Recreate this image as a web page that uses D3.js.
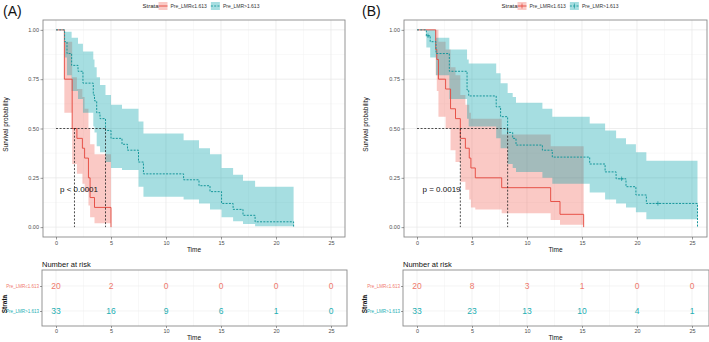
<!DOCTYPE html>
<html>
<head>
<meta charset="utf-8">
<script src="https://cdn.jsdelivr.net/npm/d3@7"></script>
<style>
  body { margin: 0; background: #fff; }
  svg { display: block; font-family: "Liberation Sans", Arial, sans-serif; }
</style>
</head>
<body>
<svg id="chart" width="709" height="342"></svg>
<script>
const timeTicks = [0, 5, 10, 15, 20, 25];
const survTicks = [0, 0.25, 0.5, 0.75, 1];
const survTickLabels = ["0.00", "0.25", "0.50", "0.75", "1.00"];
const strata = ["Pre_LMR\u22641.613", "Pre_LMR>1.613"];

// panel A, low group
const aLowTime  = [0, 0.76, 1.47, 1.9, 2.4, 2.6, 2.95, 3.1, 3.5, 5.0];
const aLowSurv  = [1, 0.75, 0.50, 0.45, 0.40, 0.35, 0.25, 0.15, 0.10, 0];
const aLowUpper = [1, 0.94, 0.76, 0.70, 0.66, 0.60, 0.50, 0.42, 0.37];
const aLowLower = [1, 0.58, 0.32, 0.27, 0.22, 0.18, 0.11, 0.05, 0.02];
// panel A, high group
const aHighTime  = [0, 0.78, 1.0, 1.42, 2.0, 2.45, 3.39, 3.5, 3.7, 4.0, 4.5, 5.0, 6.0, 6.5, 7.5, 7.95, 11.6, 13.0, 14.0, 15.05, 16.1, 17.0, 18.1, 21.6];
const aHighSurv  = [1, 0.94, 0.88, 0.82, 0.79, 0.73, 0.67, 0.64, 0.58, 0.55, 0.49, 0.45, 0.42, 0.39, 0.33, 0.27, 0.24, 0.21, 0.18, 0.12, 0.09, 0.06, 0.027, 0];
const aHighUpper = [1, 0.99, 0.99, 0.96, 0.93, 0.89, 0.85, 0.81, 0.76, 0.72, 0.67, 0.62, 0.60, 0.60, 0.535, 0.475, 0.44, 0.40, 0.37, 0.30, 0.265, 0.235, 0.205];
const aHighLower = [1, 0.86, 0.77, 0.69, 0.65, 0.58, 0.51, 0.48, 0.41, 0.38, 0.33, 0.30, 0.29, 0.29, 0.205, 0.154, 0.14, 0.12, 0.09, 0.05, 0.03, 0.016, 0.004];
const aMedians = [1.68, 4.5];
const aRiskLow = [20, 2, 0, 0, 0, 0];
const aRiskHigh = [33, 16, 9, 6, 1, 0];

// panel B, low group
const bLowTime  = [0, 1.7, 1.8, 1.95, 2.6, 3.05, 3.5, 3.94, 4.4, 4.75, 4.9, 5.3, 7.7, 12.15, 13.0, 15.15];
const bLowSurv  = [1, 0.90, 0.85, 0.75, 0.70, 0.60, 0.55, 0.45, 0.40, 0.35, 0.30, 0.25, 0.20, 0.13, 0.065, 0];
const bLowUpper = [1, 1.0, 1.0, 0.94, 0.90, 0.81, 0.77, 0.67, 0.62, 0.58, 0.55, 0.55, 0.47, 0.41, 0.41];
const bLowLower = [1, 0.77, 0.69, 0.56, 0.50, 0.39, 0.33, 0.23, 0.19, 0.14, 0.10, 0.09, 0.07, 0.036, 0.012];
// panel B, high group
const bHighTime  = [0, 0.85, 1.2, 1.73, 2.94, 4.55, 4.7, 7.2, 7.6, 8.24, 8.7, 9.0, 11.4, 12.3, 15.7, 17.1, 18.1, 19.0, 19.9, 20.85, 25.5];
const bHighSurv  = [1, 0.97, 0.94, 0.88, 0.79, 0.695, 0.665, 0.61, 0.56, 0.48, 0.45, 0.416, 0.39, 0.355, 0.32, 0.28, 0.245, 0.205, 0.163, 0.12, 0];
const bHighUpper = [1, 1.0, 1.0, 0.96, 0.90, 0.85, 0.83, 0.78, 0.73, 0.68, 0.66, 0.63, 0.60, 0.56, 0.525, 0.49, 0.45, 0.42, 0.38, 0.337];
const bHighLower = [1, 0.91, 0.86, 0.77, 0.65, 0.55, 0.51, 0.45, 0.40, 0.32, 0.30, 0.28, 0.25, 0.22, 0.175, 0.14, 0.12, 0.10, 0.075, 0.04];
const bHighCensor = [1.0, 18.6, 21.9];
const bMedians = [3.94, 8.24];
const bRiskLow = [20, 8, 3, 1, 0, 0];
const bRiskHigh = [33, 23, 13, 10, 4, 1];

const RED_LINE = "#e4453b";
const TEAL_LINE = "#16979b";
const RED_FILL = "rgba(240,100,90,0.35)";
const TEAL_FILL = "rgba(0,160,168,0.35)";
const RED_TEXT = "#ef7a6e";
const TEAL_TEXT = "#22aeb2";

const svg = d3.select("#chart");

function stepPoints(time, surv) {
  return time.map((t, i) => ({ t, s: surv[i] }));
}

function ribbonPoints(time, upper, lower) {
  const pts = upper.map((u, i) => ({ t: time[i], hi: u, lo: lower[i] }));
  const last = pts[pts.length - 1];
  pts.push({ t: time[time.length - 1], hi: last.hi, lo: last.lo });
  return pts;
}

function drawPanel(cfg) {
  const left = cfg.left, right = cfg.right;
  const top = 20, bottom = 237;
  const x = d3.scaleLinear().domain([-13 / 11, (right - left - 13) / 11]).range([left, right]);
  const y = d3.scaleLinear().domain([-0.05, 1.05]).range([bottom, top]);
  const g = svg.append("g");

  // tag
  g.append("text").attr("x", cfg.tagX).attr("y", 15.5)
    .attr("font-size", 14).attr("fill", "#111").text(cfg.tag);

  // legend
  const lg = g.append("g").attr("transform", `translate(${cfg.legendX},6)`);
  lg.append("text").attr("x", 0).attr("y", 2).attr("font-size", 6).attr("fill", "#222").text("Strata");
  let lx = 16;
  [[RED_FILL, RED_LINE, null], [TEAL_FILL, TEAL_LINE, "2,1.3"]].forEach(([fill, stroke, dash], i) => {
    lg.append("rect").attr("x", lx).attr("y", -4).attr("width", 9).attr("height", 8).attr("fill", fill);
    lg.append("line").attr("x1", lx).attr("x2", lx + 9).attr("y1", 0).attr("y2", 0)
      .attr("stroke", stroke).attr("stroke-width", 0.9).attr("stroke-dasharray", dash);
    if (cfg.censorKey) {
      lg.append("line").attr("x1", lx + 4.5).attr("x2", lx + 4.5).attr("y1", -2.5).attr("y2", 2.5)
        .attr("stroke", stroke).attr("stroke-width", 0.7);
    }
    const t = lg.append("text").attr("x", lx + 12).attr("y", 1.8).attr("font-size", 5)
      .attr("fill", "#333").text(strata[i]);
    lx += 12 + t.node().getComputedTextLength() + 4;
  });

  // panel + grid
  g.append("rect").attr("x", left).attr("y", top).attr("width", right - left).attr("height", bottom - top).attr("fill", "#fff");
  const minorT = d3.range(-2.5, 27.6, 5).filter((v) => x(v) > left && x(v) < right);
  const minorS = [0.125, 0.375, 0.625, 0.875];
  g.append("g").selectAll("line.mx").data(minorT).join("line")
    .attr("x1", (d) => x(d)).attr("x2", (d) => x(d)).attr("y1", top).attr("y2", bottom)
    .attr("stroke", "#f2f2f2").attr("stroke-width", 0.5);
  g.append("g").selectAll("line.my").data(minorS).join("line")
    .attr("x1", left).attr("x2", right).attr("y1", (d) => y(d)).attr("y2", (d) => y(d))
    .attr("stroke", "#f2f2f2").attr("stroke-width", 0.5);
  g.append("g").selectAll("line.gx").data(timeTicks).join("line")
    .attr("x1", (d) => x(d)).attr("x2", (d) => x(d)).attr("y1", top).attr("y2", bottom)
    .attr("stroke", "#e6e6e6").attr("stroke-width", 0.7);
  g.append("g").selectAll("line.gy").data(survTicks).join("line")
    .attr("x1", left).attr("x2", right).attr("y1", (d) => y(d)).attr("y2", (d) => y(d))
    .attr("stroke", "#e6e6e6").attr("stroke-width", 0.7);

  // ribbons
  const area = d3.area().curve(d3.curveStepAfter)
    .x((d) => x(d.t)).y0((d) => y(d.lo)).y1((d) => y(d.hi));
  g.append("path").datum(ribbonPoints(cfg.low.time, cfg.low.upper, cfg.low.lower))
    .attr("d", area).attr("fill", RED_FILL);
  g.append("path").datum(ribbonPoints(cfg.high.time, cfg.high.upper, cfg.high.lower))
    .attr("d", area).attr("fill", TEAL_FILL);

  // curves
  const line = d3.line().curve(d3.curveStepAfter).x((d) => x(d.t)).y((d) => y(d.s));
  g.append("path").datum(stepPoints(cfg.low.time, cfg.low.surv)).attr("d", line)
    .attr("fill", "none").attr("stroke", RED_LINE).attr("stroke-width", 0.9);
  g.append("path").datum(stepPoints(cfg.high.time, cfg.high.surv)).attr("d", line)
    .attr("fill", "none").attr("stroke", TEAL_LINE).attr("stroke-width", 1)
    .attr("stroke-dasharray", "2,1.3");

  // censor marks
  if (cfg.censor) {
    const sAt = (t) => {
      const idx = d3.bisectRight(cfg.high.time, t) - 1;
      return cfg.high.surv[Math.max(0, idx)];
    };
    g.append("g").selectAll("path").data(cfg.censor).join("path")
      .attr("d", (t) => `M${x(t)},${y(sAt(t)) - 2.2}V${y(sAt(t)) + 2.2}M${x(t) - 2.2},${y(sAt(t))}H${x(t) + 2.2}`)
      .attr("stroke", TEAL_LINE).attr("stroke-width", 0.7);
  }

  // median lines
  g.append("line").attr("x1", x(0)).attr("x2", x(d3.max(cfg.medians))).attr("y1", y(0.5)).attr("y2", y(0.5))
    .attr("stroke", "#222").attr("stroke-width", 0.8).attr("stroke-dasharray", "2,1.6");
  g.append("g").selectAll("line").data(cfg.medians).join("line")
    .attr("x1", (d) => x(d)).attr("x2", (d) => x(d)).attr("y1", y(0.5)).attr("y2", y(0))
    .attr("stroke", "#222").attr("stroke-width", 0.8).attr("stroke-dasharray", "2,1.6");

  // p value
  g.append("text").attr("x", x(cfg.pvalT)).attr("y", y(0.19)).attr("dy", "0.35em")
    .attr("font-size", 8).attr("fill", "#111").text(cfg.pval);

  // border
  g.append("rect").attr("x", left).attr("y", top).attr("width", right - left).attr("height", bottom - top)
    .attr("fill", "none").attr("stroke", "#8a8a8a").attr("stroke-width", 0.9);

  // axes
  const yAxis = g.append("g").attr("transform", `translate(${left},0)`)
    .call(d3.axisLeft(y).tickValues(survTicks).tickFormat((d, i) => survTickLabels[i]).tickSize(2.5).tickPadding(1.5));
  const xAxis = g.append("g").attr("transform", `translate(0,${bottom})`)
    .call(d3.axisBottom(x).tickValues(timeTicks).tickSize(2.5).tickPadding(1.5));
  [yAxis, xAxis].forEach((ax) => {
    ax.select(".domain").remove();
    ax.selectAll("line").attr("stroke", "#555").attr("stroke-width", 0.6);
    ax.selectAll("text").attr("font-size", 5.5).attr("fill", "#4d4d4d").attr("font-family", null);
  });

  g.append("text").attr("x", (left + right) / 2).attr("y", 252).attr("text-anchor", "middle")
    .attr("font-size", 6.5).attr("fill", "#111").text("Time");
  g.append("text").attr("transform", `translate(${cfg.yTitleX},${(top + bottom) / 2 - 4}) rotate(-90)`)
    .attr("text-anchor", "middle").attr("font-size", 6.5).attr("fill", "#111").text("Survival probability");

  // risk table
  const tTop = 270, tBottom = 326;
  const rowY = d3.scalePoint().domain(strata).range([286, 311]);
  g.append("text").attr("x", left - 1).attr("y", 266.5).attr("font-size", 7.5).attr("fill", "#111").text("Number at risk");
  g.append("g").selectAll("line").data(minorT.concat(timeTicks)).join("line")
    .attr("x1", (d) => x(d)).attr("x2", (d) => x(d)).attr("y1", tTop).attr("y2", tBottom)
    .attr("stroke", (d) => timeTicks.includes(d) ? "#e8e8e8" : "#f3f3f3").attr("stroke-width", 0.6);
  g.append("g").selectAll("line").data(strata).join("line")
    .attr("x1", left).attr("x2", right + 2).attr("y1", (d) => rowY(d)).attr("y2", (d) => rowY(d))
    .attr("stroke", "#ececec").attr("stroke-width", 0.6);
  g.append("rect").attr("x", left - 1).attr("y", tTop).attr("width", right - left + 3).attr("height", tBottom - tTop)
    .attr("fill", "none").attr("stroke", "#8a8a8a").attr("stroke-width", 0.9);

  [[cfg.riskLow, RED_TEXT, strata[0]], [cfg.riskHigh, TEAL_TEXT, strata[1]]].forEach(([vals, col, s]) => {
    g.append("g").selectAll("text").data(vals).join("text")
      .attr("x", (d, i) => x(timeTicks[i])).attr("y", rowY(s)).attr("dy", "0.35em")
      .attr("text-anchor", "middle").attr("font-size", 8.5).attr("fill", col).text((d) => d);
  });

  const rAxis = g.append("g").attr("transform", `translate(${left - 1},0)`)
    .call(d3.axisLeft(rowY).tickSize(2).tickPadding(1));
  rAxis.select(".domain").remove();
  rAxis.selectAll("line").attr("stroke", "#555").attr("stroke-width", 0.6);
  rAxis.selectAll("text").attr("font-size", 4.5).attr("font-family", null)
    .attr("fill", (d) => d === strata[0] ? RED_TEXT : TEAL_TEXT);

  const tAxis = g.append("g").attr("transform", `translate(0,${tBottom})`)
    .call(d3.axisBottom(x).tickValues(timeTicks).tickSize(2).tickPadding(1));
  tAxis.select(".domain").remove();
  tAxis.selectAll("line").attr("stroke", "#555").attr("stroke-width", 0.6);
  tAxis.selectAll("text").attr("font-size", 5.5).attr("fill", "#4d4d4d").attr("font-family", null);

  g.append("text").attr("x", (left + right) / 2).attr("y", 339.5).attr("text-anchor", "middle")
    .attr("font-size", 6.5).attr("fill", "#111").text("Time");
  g.append("text").attr("transform", `translate(${cfg.yTitleX - 1},${(tTop + tBottom) / 2 + 6}) rotate(-90)`)
    .attr("text-anchor", "middle").attr("font-size", 6.5).attr("font-weight", "bold").attr("fill", "#111").text("Strata");
}

drawPanel({
  left: 43, right: 345, tag: "(A)", tagX: 3, legendX: 142.5, yTitleX: 7.5,
  low: { time: aLowTime, surv: aLowSurv, upper: aLowUpper, lower: aLowLower },
  high: { time: aHighTime, surv: aHighSurv, upper: aHighUpper, lower: aHighLower },
  medians: aMedians, pval: "p < 0.0001", pvalT: 0.36,
  riskLow: aRiskLow, riskHigh: aRiskHigh, censorKey: false
});

drawPanel({
  left: 404, right: 707, tag: "(B)", tagX: 362, legendX: 501.5, yTitleX: 367.5,
  low: { time: bLowTime, surv: bLowSurv, upper: bLowUpper, lower: bLowLower },
  high: { time: bHighTime, surv: bHighSurv, upper: bHighUpper, lower: bHighLower },
  medians: bMedians, pval: "p = 0.0019", pvalT: 0.5,
  riskLow: bRiskLow, riskHigh: bRiskHigh, censor: bHighCensor, censorKey: true
});
</script>
</body>
</html>
